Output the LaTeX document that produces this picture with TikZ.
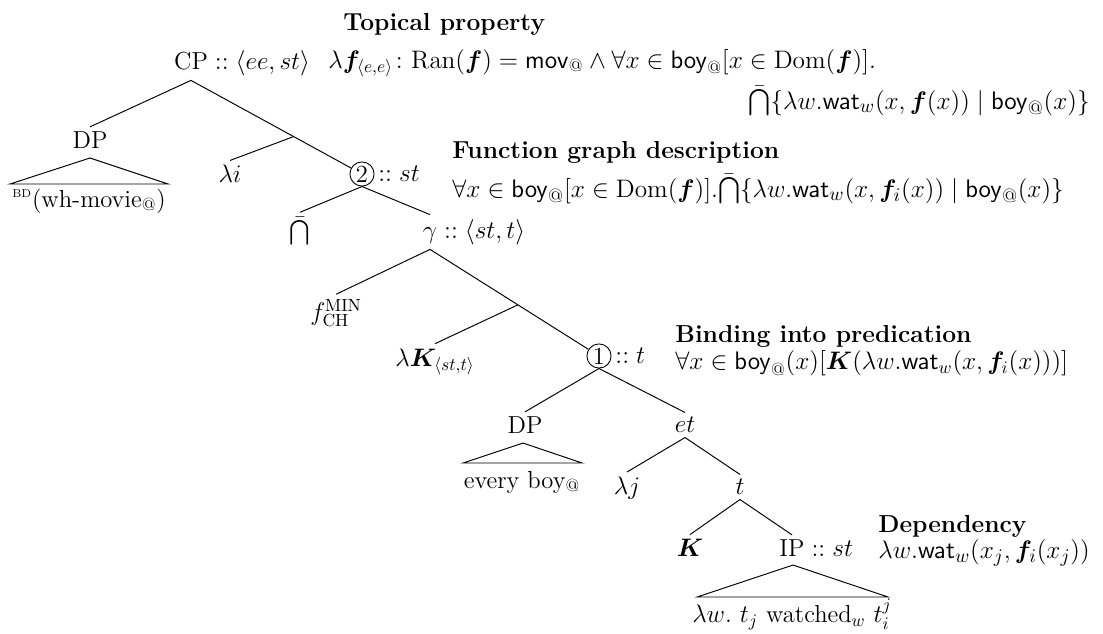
\documentclass[tikz,border=0pt]{standalone}
\usepackage{amsmath,amssymb,bm}
\usetikzlibrary{calc}
\newcommand{\sfat}{\mathsf{@}}
\newcommand{\boyat}{\mathsf{boy}_{\sfat}}
\newcommand{\watw}{\mathsf{wat}_{w}}
\newcommand{\capbar}{\bar{\bigcap}}
\begin{document}
\begin{tikzpicture}[x=0.02cm,y=-0.02cm,
  every node/.style={font=\fontsize{14}{17}\selectfont},
  tn/.style={inner sep=2.5pt},
  circ/.style={circle,draw,line width=0.5pt,inner sep=0.8pt},
  hd/.style={anchor=west,inner sep=0pt,font=\fontsize{14}{17}\selectfont\bfseries},
  fm/.style={anchor=west,inner sep=0pt},
  fmbig/.style={anchor=west,inner sep=0pt,font=\fontsize{15}{18}\selectfont},
  lab/.style={anchor=west,inner sep=0pt},
  br/.style={line width=0.55pt},
]
\useasboundingbox (0,0) rectangle (1103,633);

% tree nodes
\node[tn] (cp) at (191,63) {CP\rlap{${}::\langle ee, st\rangle$}};
\node[tn] (dp1) at (90,140) {DP};
\node[tn] (li) at (230,174) {$\lambda i$};
\node[circ] (two) at (362,174) {2};
\node[lab] (twol) at ([xshift=2pt]two.east) {$::st$};
\node[tn] (cap) at (300,231) {$\capbar$};
\node[tn] (gam) at (430,232) {$\gamma$\rlap{${}::\langle st, t\rangle$}};
\node[tn] (fch) at (336,313) {$f^{\mathrm{MIN}}_{\mathrm{CH}}$};
\node[tn,anchor=base] (lk) at (435,366) {$\lambda\bm{K}_{\langle st,t\rangle}$};
\node[circ] (one) at (599,356) {1};
\node[lab] (onel) at ([xshift=2pt]one.east) {$::t$};
\node[tn] (dp2) at (525,425) {DP};
\node[tn] (et) at (685,425) {$et$};
\node[tn] (lj) at (627,488) {$\lambda j$};
\node[tn] (tt) at (740,487) {$t$};
\node[tn] (kk) at (690,548) {$\bm{K}$};
\node[tn] (ip) at (792,548) {IP\rlap{${}::st$}};

% branching points
\coordinate (x1) at ($(cp.south)!0.6!(two)$);
\coordinate (x2) at ($(gam.south)!0.52!(one)$);

% triangle leaves
\node[tn] (dp1t) at (89,201) {\textsuperscript{\fontsize{6.5}{7}\selectfont BD}(wh-movie$_{@}$)};
\node[tn] (dp2t) at (522,482) {every boy$_{@}$};
\node[tn] (ipt) at (792,614) {$\lambda w.\ t_j$ watched$_w$ $t_i^j$};

\coordinate (t1a) at (90,158);
\coordinate (t1l) at (10,184);
\coordinate (t1r) at (168,184);
\coordinate (t2a) at (523,443);
\coordinate (t2l) at (463,463);
\coordinate (t2r) at (582,463);
\coordinate (t3a) at (793,565);
\coordinate (t3l) at (697,597);
\coordinate (t3r) at (888,597);

% branches
\draw[br] (cp.south) -- (dp1.north);
\draw[br] (cp.south) -- (x1) -- (two);
\draw[br] (x1) -- (li.north);
\draw[br] (two.south) -- (cap.north);
\draw[br] (two.south) -- (gam.north);
\draw[br] (gam.south) -- (fch.north);
\draw[br] (gam.south) -- (x2) -- (one);
\draw[br] (x2) -- (lk.north);
\draw[br] (one.south) -- (dp2.north);
\draw[br] (one.south) -- (et.north);
\draw[br] (et.south) -- (lj.north);
\draw[br] (et.south) -- (tt.north);
\draw[br] (tt.south) -- (kk.north);
\draw[br] (tt.south) -- (ip.north);
\draw[br] (t1a) -- (t1l) -- (t1r) -- cycle;
\draw[br] (t2a) -- (t2l) -- (t2r) -- cycle;
\draw[br] (t3a) -- (t3l) -- (t3r) -- cycle;

% annotations
\node[hd] (h1) at (343,24) {Topical property};
\node[fm] (f1a) at (328,63) {$\lambda \bm{f}_{\langle e,e\rangle}\colon \mathrm{Ran}(\bm{f}) = \mathsf{mov}_{\sfat} \wedge \forall x \in \boyat[x \in \mathrm{Dom}(\bm{f})].$};
\node[fmbig,anchor=east] (f1b) at (1090,101) {$\capbar\{\lambda w.\watw(x, \bm{f}(x)) \mid \boyat(x)\}$};
\node[hd] (h2) at (452,152) {Function graph description};
\node[fmbig] (f2) at (452,189) {$\forall x \in \boyat[x \in \mathrm{Dom}(\bm{f})].\capbar\{\lambda w.\watw(x, \bm{f}_i(x)) \mid \boyat(x)\}$};
\node[hd] (h3) at (675,336) {Binding into predication};
\node[fm] (f3) at (675,363) {$\forall x \in \boyat(x)[\bm{K}(\lambda w.\watw(x, \bm{f}_i(x)))]$};
\node[hd] (h4) at (878,526) {Dependency};
\node[fmbig] (f4) at (878,553) {$\lambda w.\watw(x_j, \bm{f}_i(x_j))$};
\end{tikzpicture}
\end{document}
